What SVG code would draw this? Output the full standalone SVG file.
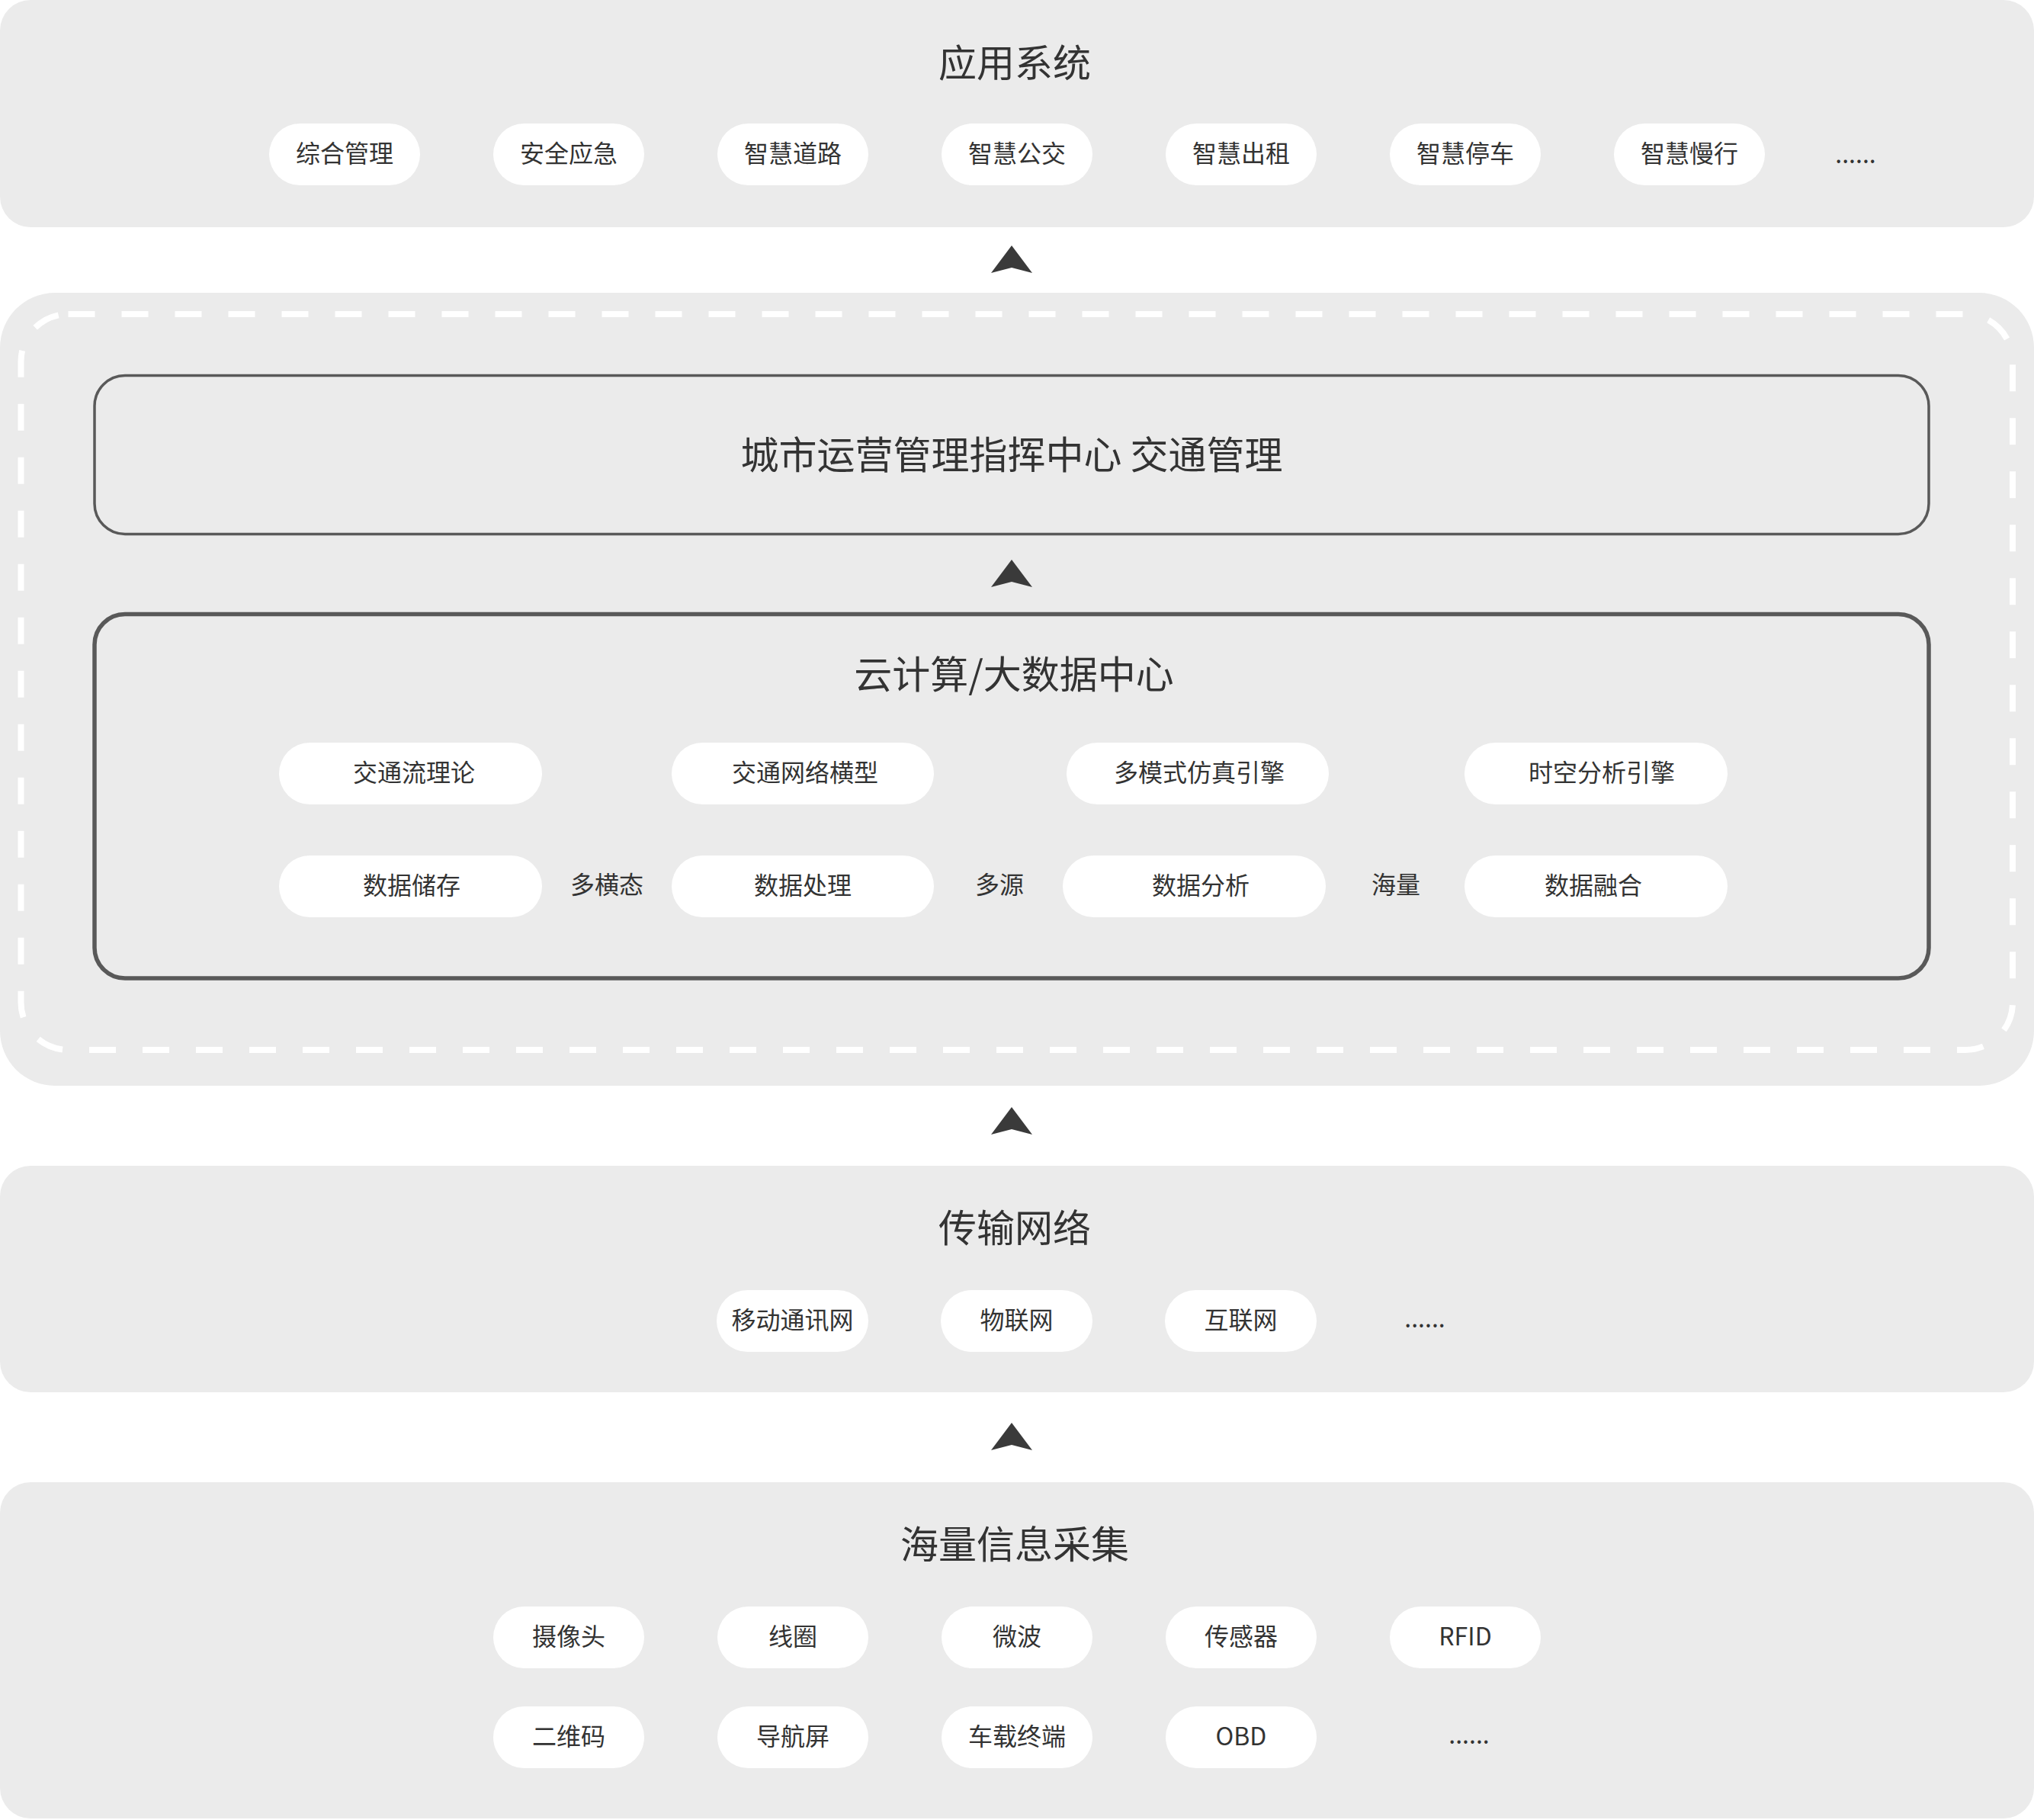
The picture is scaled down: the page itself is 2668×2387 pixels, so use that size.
<svg xmlns="http://www.w3.org/2000/svg" width="2668" height="2387" viewBox="0 0 2668 2387">
<style>
  .panel { fill: #EBEBEB; }
  .pill { fill: #FFFFFF; }
  .box1 { fill: none; stroke: #595959; stroke-width: 3.5; }
  .box2 { fill: none; stroke: #595959; stroke-width: 5.5; }
  .dash { fill: none; stroke: #FFFFFF; stroke-width: 8; stroke-dasharray: 35 35; }
  .arrow { fill: #3A3A3A; }
  text { font-family: "Noto Sans CJK SC", "Noto Sans", sans-serif; fill: #333333; text-anchor: middle; dominant-baseline: central; }
  .title { font-size: 50px; }
  .t { font-size: 32px; }
</style>
<rect x="0" y="0" width="2668" height="2387" fill="#FFFFFF"/>

<g id="app-layer">
  <rect class="panel" x="0" y="0" width="2668" height="298" rx="40"/>
  <text class="title" x="1331" y="79">应用系统</text>
  <g id="app-1"><rect class="pill" x="353" y="162" width="198" height="81" rx="40.5"/><text class="t" x="452" y="199">综合管理</text></g>
  <g id="app-2"><rect class="pill" x="647" y="162" width="198" height="81" rx="40.5"/><text class="t" x="746" y="199">安全应急</text></g>
  <g id="app-3"><rect class="pill" x="941" y="162" width="198" height="81" rx="40.5"/><text class="t" x="1040" y="199">智慧道路</text></g>
  <g id="app-4"><rect class="pill" x="1235" y="162" width="198" height="81" rx="40.5"/><text class="t" x="1334" y="199">智慧公交</text></g>
  <g id="app-5"><rect class="pill" x="1529" y="162" width="198" height="81" rx="40.5"/><text class="t" x="1628" y="199">智慧出租</text></g>
  <g id="app-6"><rect class="pill" x="1823" y="162" width="198" height="81" rx="40.5"/><text class="t" x="1922" y="199">智慧停车</text></g>
  <g id="app-7"><rect class="pill" x="2117" y="162" width="198" height="81" rx="40.5"/><text class="t" x="2216" y="199">智慧慢行</text></g>
  <text class="t" x="2434" y="200">......</text>
</g>

<g id="platform-layer">
  <rect class="panel" x="0" y="384" width="2668" height="1040" rx="72"/>
  <rect class="dash" x="27.5" y="412" width="2612.5" height="965" rx="62"/>
</g>

<g id="command-center">
  <rect class="box1" x="124" y="492.5" width="2406" height="208" rx="40"/>
  <text class="title" x="1327" y="593">城市运营管理指挥中心 交通管理</text>
</g>

<g id="cloud-center">
  <rect class="box2" x="124" y="805.5" width="2406" height="477.5" rx="40"/>
  <text class="title" x="1330" y="881">云计算/大数据中心</text>
  <g id="cloud-1"><rect class="pill" x="366" y="974" width="345" height="81" rx="40.5"/><text class="t" x="543" y="1011">交通流理论</text></g>
  <g id="cloud-2"><rect class="pill" x="881" y="974" width="344" height="81" rx="40.5"/><text class="t" x="1056" y="1011">交通网络横型</text></g>
  <g id="cloud-3"><rect class="pill" x="1399" y="974" width="344" height="81" rx="40.5"/><text class="t" x="1573" y="1011">多模式仿真引擎</text></g>
  <g id="cloud-4"><rect class="pill" x="1921" y="974" width="345" height="81" rx="40.5"/><text class="t" x="2101" y="1011">时空分析引擎</text></g>
  <g id="cloud-5"><rect class="pill" x="366" y="1122" width="345" height="81" rx="40.5"/><text class="t" x="540" y="1159">数据储存</text></g>
  <g id="cloud-6"><rect class="pill" x="881" y="1122" width="344" height="81" rx="40.5"/><text class="t" x="1053" y="1159">数据处理</text></g>
  <g id="cloud-7"><rect class="pill" x="1394" y="1122" width="345" height="81" rx="40.5"/><text class="t" x="1575" y="1159">数据分析</text></g>
  <g id="cloud-8"><rect class="pill" x="1921" y="1122" width="345" height="81" rx="40.5"/><text class="t" x="2090" y="1159">数据融合</text></g>
  <text class="t" x="796" y="1158">多横态</text>
  <text class="t" x="1311" y="1158">多源</text>
  <text class="t" x="1831" y="1158">海量</text>
</g>

<g id="network-layer">
  <rect class="panel" x="0" y="1529" width="2668" height="297" rx="40"/>
  <text class="title" x="1331" y="1607">传输网络</text>
  <g id="net-1"><rect class="pill" x="940" y="1692" width="199" height="81" rx="40.5"/><text class="t" x="1039.5" y="1729">移动通讯网</text></g>
  <g id="net-2"><rect class="pill" x="1234" y="1692" width="199" height="81" rx="40.5"/><text class="t" x="1333.5" y="1729">物联网</text></g>
  <g id="net-3"><rect class="pill" x="1528" y="1692" width="199" height="81" rx="40.5"/><text class="t" x="1627.5" y="1729">互联网</text></g>
  <text class="t" x="1869" y="1727">......</text>
</g>

<g id="collection-layer">
  <rect class="panel" x="0" y="1944" width="2668" height="441" rx="40"/>
  <text class="title" x="1331" y="2022">海量信息采集</text>
  <g id="col-1"><rect class="pill" x="647" y="2107" width="198" height="81" rx="40.5"/><text class="t" x="746" y="2144">摄像头</text></g>
  <g id="col-2"><rect class="pill" x="941" y="2107" width="198" height="81" rx="40.5"/><text class="t" x="1040" y="2144">线圈</text></g>
  <g id="col-3"><rect class="pill" x="1235" y="2107" width="198" height="81" rx="40.5"/><text class="t" x="1334" y="2144">微波</text></g>
  <g id="col-4"><rect class="pill" x="1529" y="2107" width="198" height="81" rx="40.5"/><text class="t" x="1628" y="2144">传感器</text></g>
  <g id="col-5"><rect class="pill" x="1823" y="2107" width="198" height="81" rx="40.5"/><text class="t" x="1922" y="2144">RFID</text></g>
  <g id="col-6"><rect class="pill" x="647" y="2238" width="198" height="81" rx="40.5"/><text class="t" x="746" y="2275">二维码</text></g>
  <g id="col-7"><rect class="pill" x="941" y="2238" width="198" height="81" rx="40.5"/><text class="t" x="1040" y="2275">导航屏</text></g>
  <g id="col-8"><rect class="pill" x="1235" y="2238" width="198" height="81" rx="40.5"/><text class="t" x="1334" y="2275">车载终端</text></g>
  <g id="col-9"><rect class="pill" x="1529" y="2238" width="198" height="81" rx="40.5"/><text class="t" x="1628" y="2275">OBD</text></g>
  <text class="t" x="1927" y="2273">......</text>
</g>

<g id="connectors">
  <path class="arrow" d="M1327,322 L1354,358 L1327,351 L1300,358 Z"/>
  <path class="arrow" d="M1327,734 L1354,770 L1327,763 L1300,770 Z"/>
  <path class="arrow" d="M1327,1452 L1354,1488 L1327,1481 L1300,1488 Z"/>
  <path class="arrow" d="M1327,1866 L1354,1902 L1327,1895 L1300,1902 Z"/>
</g>
</svg>
